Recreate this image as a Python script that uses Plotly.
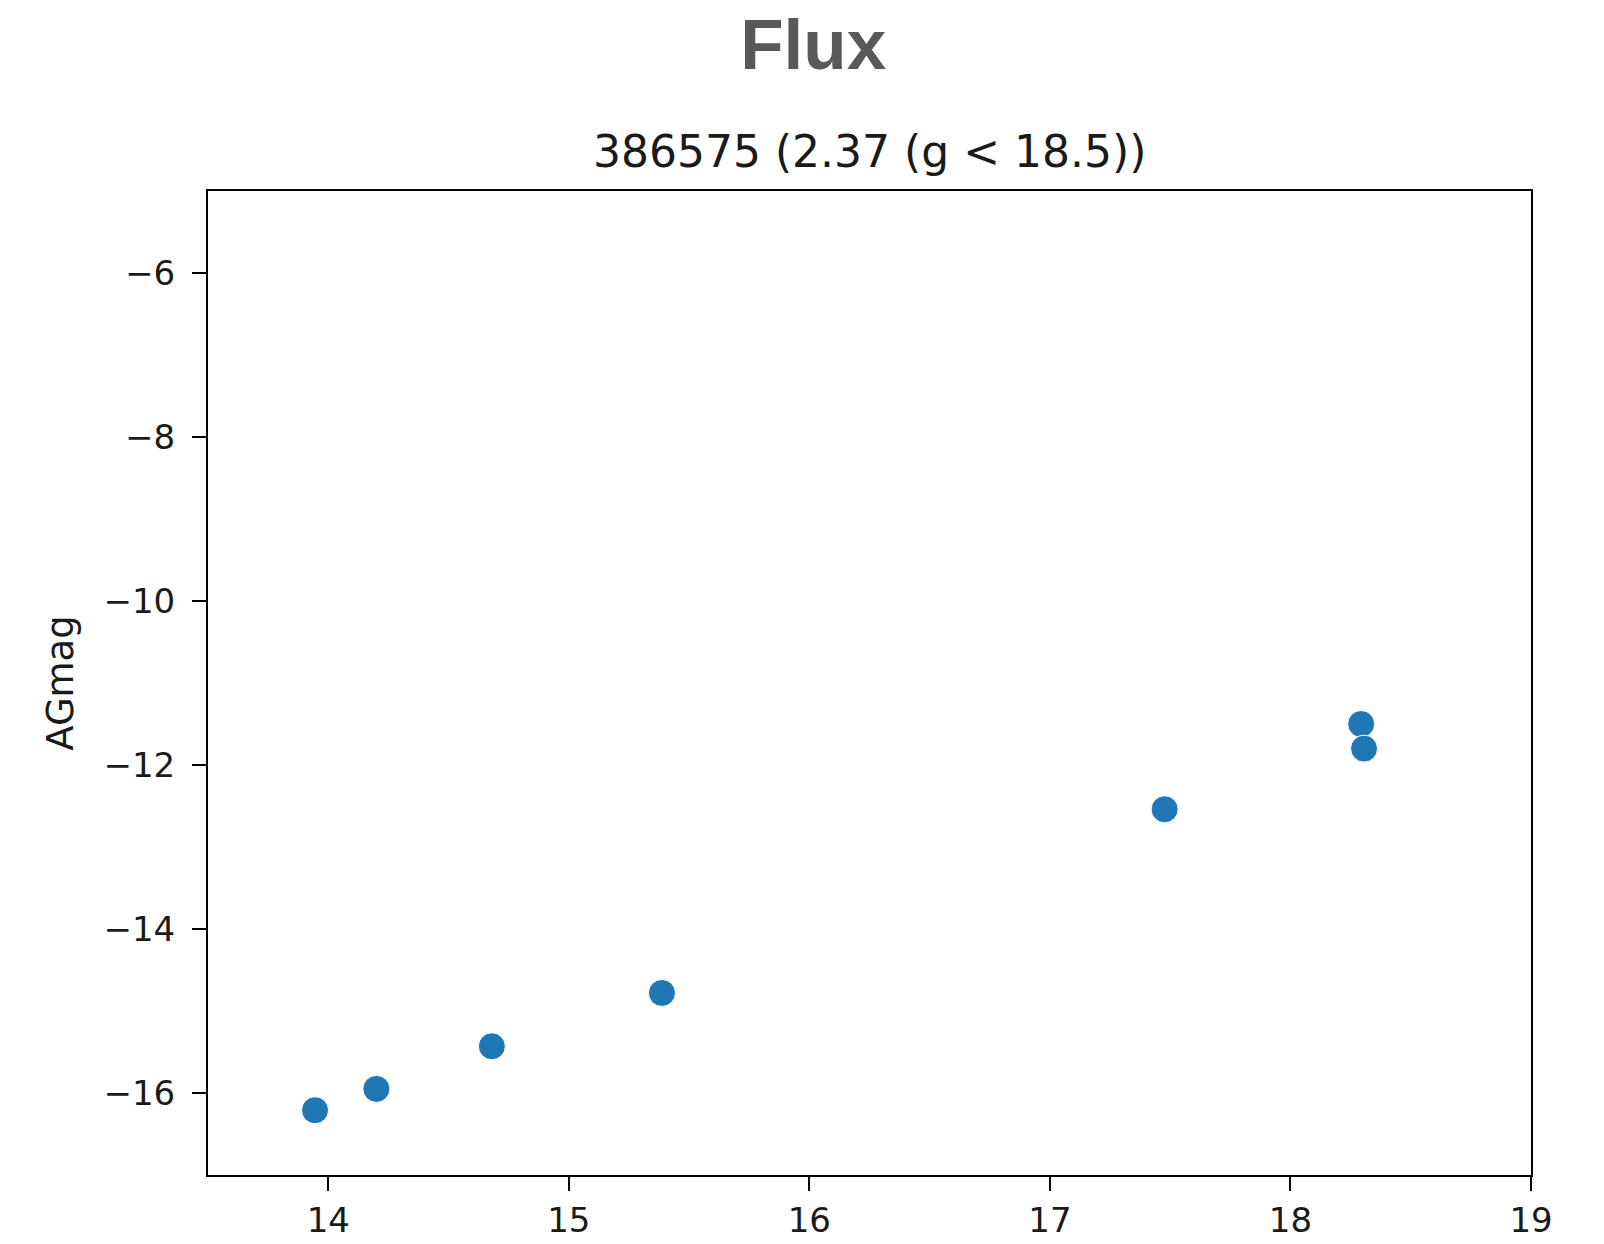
import plotly.graph_objects as go

# Data
g_mag = [13.945, 14.20, 14.68, 15.387, 17.477, 18.294, 18.306]
ag_mag = [-16.21, -15.95, -15.43, -14.78, -12.54, -11.50, -11.80]

x_ticks = [14, 15, 16, 17, 18, 19]
y_ticks = [-6, -8, -10, -12, -14, -16]
y_tick_labels = ["\u22126", "\u22128", "\u221210", "\u221212", "\u221214", "\u221216"]

main_title = "Flux"
sub_title = "386575 (2.37 (g < 18.5))"
y_label = "AGmag"

FONT = "DejaVu Sans"

fig = go.Figure()
fig.add_trace(go.Scatter(
    x=g_mag, y=ag_mag, mode="markers",
    marker=dict(size=27, color="#1f77b4", line=dict(color="white", width=1)),
    showlegend=False,
))

fig.update_layout(
    width=1604, height=1244,
    margin=dict(l=208, r=73, t=191, b=69),
    paper_bgcolor="white", plot_bgcolor="white",
    font=dict(family=FONT, color="#1a1a1a", size=34),
    title=dict(text="<b>" + main_title + "</b>", x=0.507, xref="container", xanchor="center",
               y=1 - 44 / 1244, yref="container", yanchor="middle",
               font=dict(family="Liberation Sans, Arial", size=71, color="#595959")),
    annotations=[dict(text=sub_title, x=0.5, xref="paper", xanchor="center",
                      y=1 + 40 / 984, yref="paper", yanchor="middle", showarrow=False,
                      font=dict(family=FONT, size=44, color="#1a1a1a"))],
)

fig.update_xaxes(
    range=[13.5, 19], tickvals=x_ticks, ticktext=[str(v) for v in x_ticks],
    showgrid=False, zeroline=False, automargin=False,
    showline=True, linecolor="black", linewidth=2, mirror=True,
    ticks="outside", ticklen=14, tickwidth=2, tickcolor="black",
    tickfont=dict(family=FONT, size=34, color="#1a1a1a"),
)
fig.update_yaxes(
    range=[-17, -5], tickvals=y_ticks, ticktext=y_tick_labels,
    showgrid=False, zeroline=False, automargin=False,
    showline=True, linecolor="black", linewidth=2, mirror=True,
    ticks="outside", ticklen=14, tickwidth=2, tickcolor="black",
    tickfont=dict(family=FONT, size=34, color="#1a1a1a"),
    ticklabelstandoff=10,
    title=dict(text=y_label, font=dict(family=FONT, size=37, color="#1a1a1a"), standoff=18),
)

fig.write_html("out.html")
